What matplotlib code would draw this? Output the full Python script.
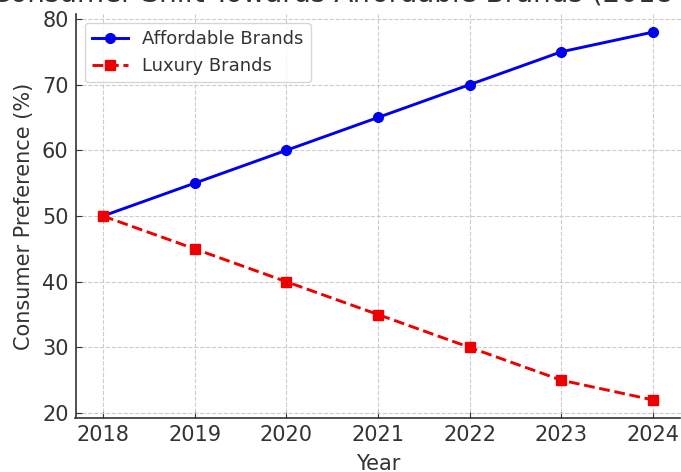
import matplotlib
matplotlib.use("Agg")
import matplotlib.pyplot as plt

years = [2018, 2019, 2020, 2021, 2022, 2023, 2024]
affordable = [50, 55, 60, 65, 70, 75, 78]
luxury = [50, 45, 40, 35, 30, 25, 22]
yticks = [20, 30, 40, 50, 60, 70, 80]

W, H = 681, 472
fig = plt.figure(figsize=(W / 100, H / 100), dpi=100)
left, right, top, bottom = 75.5, 680.5, 13.7, 418.3
ax = fig.add_axes([left / W, (H - bottom) / H, (right - left) / W, (bottom - top) / H])

ax.plot(years, affordable, color="#0000ee", marker="o", markersize=7, linewidth=2.1,
        label="Affordable Brands")
ax.plot(years, luxury, color="#ee0000", marker="s", markersize=7, linewidth=2.1,
        linestyle="--", label="Luxury Brands")

ax.set_xticks(years)
ax.set_yticks(yticks)
ax.tick_params(direction="in", labelsize=15, length=4, pad=5, colors="#333333",
               labelcolor="#333333")
ax.grid(True, linestyle="--", color="#cccccc", linewidth=0.8)
ax.spines["top"].set_visible(False)
ax.spines["right"].set_visible(False)
for s in ("left", "bottom"):
    ax.spines[s].set_color("#333333")
    ax.spines[s].set_linewidth(1.2)

ax.set_xlabel("Year", fontsize=15, color="#333333", labelpad=6)
ax.set_ylabel("Consumer Preference (%)", fontsize=15, color="#333333", labelpad=6)
ax.set_title("Consumer Shift Towards Affordable Brands (2018-2024)", fontsize=20,
             color="#333333", pad=9)
leg = ax.legend(loc="upper left", fontsize=13, frameon=True, borderaxespad=0.5)
for t in leg.get_texts():
    t.set_color("#333333")

fig.savefig("out.png", dpi=100)
